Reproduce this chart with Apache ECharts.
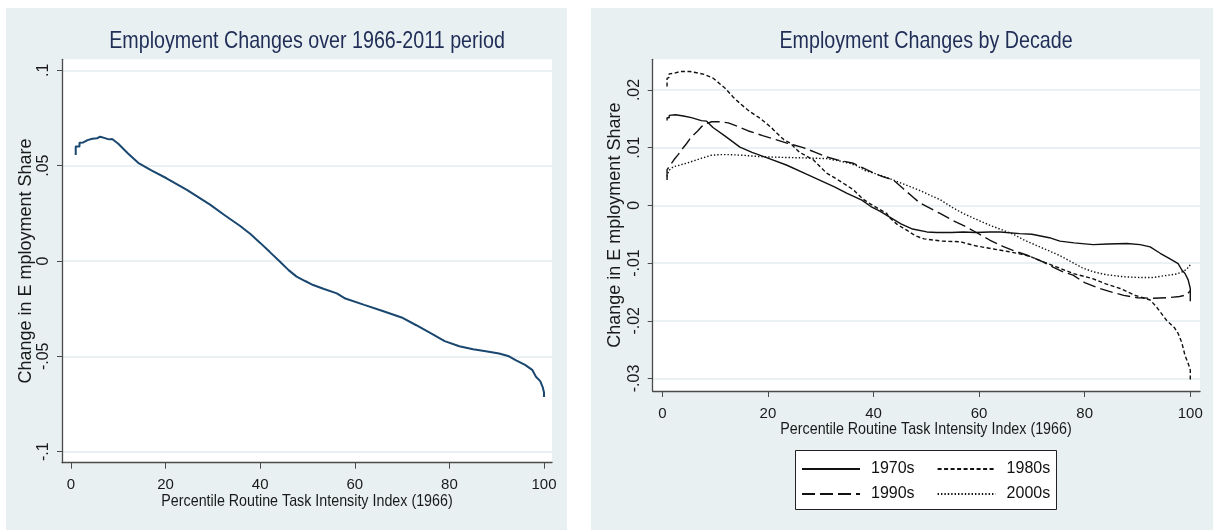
<!DOCTYPE html>
<html>
<head>
<meta charset="utf-8">
<script src="https://cdn.jsdelivr.net/npm/echarts@6/dist/echarts.min.js"></script>
<style>
html,body{margin:0;padding:0;background:#fff;}
#chart{width:1213px;height:532px;}
</style>
</head>
<body>
<div id="chart"></div>
<script>
// ---------- DATA ----------
const leftTitle = 'Employment Changes over 1966-2011 period';
const rightTitle = 'Employment Changes by Decade';
const xAxisTitle = 'Percentile Routine Task Intensity Index (1966)';
const yAxisTitle = 'Change in E mployment Share';

const xTicks = [0, 20, 40, 60, 80, 100];
const leftYTicks = [-0.1, -0.05, 0, 0.05, 0.1];
const leftYLabels = ['-.1', '-.05', '0', '.05', '.1'];
const rightYTicks = [-0.03, -0.02, -0.01, 0, 0.01, 0.02];
const rightYLabels = ['-.03', '-.02', '-.01', '0', '.01', '.02'];

const seriesNames = ['1970s', '1980s', '1990s', '2000s'];

// Overall 1966-2011
const xAll = [1.0,1.0,1.8,1.8,2.6,2.6,3.5,3.5,4.5,5.5,6.2,7.0,8.0,8.7,10.0,12.0,14.2,17.0,20.2,24.5,29.4,32.5,35.7,38.0,40.0,42.0,44.2,46.0,47.7,49.5,51.2,53.5,56.2,58.0,62.0,65.9,69.9,73.0,76.4,79.0,82.1,85.0,87.7,90.5,92.6,94.0,96.0,97.5,98.3,99.2,99.7,100,100];
const yAll = [0.0556,0.0600,0.0600,0.0620,0.0622,0.0632,0.0634,0.0640,0.0641,0.0644,0.0652,0.0646,0.0638,0.0640,0.0615,0.0565,0.0515,0.0475,0.0434,0.0373,0.0296,0.0240,0.0185,0.0140,0.0095,0.0048,-0.0004,-0.0048,-0.0082,-0.0105,-0.0126,-0.0147,-0.0170,-0.0197,-0.0230,-0.0262,-0.0296,-0.0337,-0.0384,-0.0420,-0.0447,-0.0463,-0.0473,-0.0485,-0.0500,-0.0520,-0.0545,-0.0571,-0.0607,-0.0630,-0.0660,-0.0690,-0.0714];

// 1970s
const x1970 = [0.9,0.9,1.3,1.3,2.5,4.0,5.5,7.4,8.4,9.6,11.9,14.7,17.0,20.0,23.5,27.3,30.0,32.6,35.0,37.8,39.5,41.2,43.0,45.2,47.4,50.1,52.0,54.8,57.0,59.3,62.0,64.0,67.7,70.0,73.3,75.3,78.0,81.6,84.4,88.0,90.5,92.4,94.3,96.0,97.7,98.4,99.0,99.6,100,100];
const y1970 = [0.0147,0.0152,0.0152,0.0156,0.0157,0.0155,0.0152,0.0147,0.0146,0.0135,0.0120,0.0101,0.0092,0.0082,0.0070,0.0054,0.0043,0.0032,0.0021,0.0009,-0.0002,-0.0010,-0.0020,-0.0032,-0.0041,-0.0046,-0.0047,-0.0047,-0.0046,-0.0047,-0.0046,-0.0046,-0.0049,-0.0050,-0.0056,-0.0062,-0.0065,-0.0068,-0.0067,-0.0066,-0.0068,-0.0072,-0.0083,-0.0092,-0.0101,-0.0112,-0.0118,-0.0129,-0.0144,-0.0166];

// 1980s
const x1980 = [0.9,0.9,1.3,1.3,2.2,3.35,5.2,6.5,8.0,9.7,11.9,13.4,14.8,16.5,18.5,20.5,23.0,24.2,26.0,28.6,31.1,33.5,36.2,38.0,39.3,42.5,43.0,44.5,46.3,48.0,49.6,51.3,53.0,56.4,59.3,63.0,65.5,67.7,69.5,71.9,74.5,77.8,81.5,84.0,86.7,89.6,92.4,93.5,95.5,97.0,97.7,98.4,99.0,99.6,100,100];
const y1980 = [0.0206,0.0220,0.0222,0.0228,0.0229,0.0232,0.0232,0.0230,0.0227,0.0220,0.0203,0.0188,0.0176,0.0163,0.0151,0.0136,0.0114,0.0108,0.0092,0.0079,0.0056,0.0043,0.0027,0.0011,0.0003,-0.0014,-0.0021,-0.0033,-0.0043,-0.0053,-0.0058,-0.0060,-0.0062,-0.0063,-0.0070,-0.0076,-0.0080,-0.0084,-0.0088,-0.0097,-0.0106,-0.0118,-0.0127,-0.0136,-0.0144,-0.0156,-0.0164,-0.0175,-0.0199,-0.0212,-0.0222,-0.0238,-0.0260,-0.0274,-0.0285,-0.0303];

// 1990s
const x1990 = [0.9,0.9,1.4,2.2,3.0,3.7,4.5,5.2,6.0,6.7,7.5,8.1,9.35,11.0,12.5,14.5,16.3,19.0,21.5,23.6,26.7,29.0,31.1,33.5,36.2,38.0,40.0,42.0,43.75,45.5,47.4,48.8,50.5,52.6,55.0,57.5,59.5,62.0,64.5,67.0,69.0,71.9,74.0,75.6,77.8,80.0,82.5,85.4,87.4,90.0,93.0,95.6,98.0,99.3,100];
const y1990 = [0.0044,0.0062,0.0068,0.0079,0.0088,0.0097,0.0106,0.0115,0.0123,0.0129,0.0137,0.0141,0.0145,0.0145,0.0143,0.0136,0.0129,0.0121,0.0114,0.0108,0.0100,0.0092,0.0084,0.0078,0.0073,0.0065,0.0056,0.0049,0.0044,0.0030,0.0015,0.0004,-0.0004,-0.0014,-0.0026,-0.0037,-0.0047,-0.0060,-0.0071,-0.0080,-0.0086,-0.0097,-0.0107,-0.0114,-0.0121,-0.0134,-0.0143,-0.0151,-0.0156,-0.0160,-0.0161,-0.0160,-0.0158,-0.0155,-0.0148];

// 2000s
const x2000 = [0.9,1.2,2.1,3.0,4.5,5.9,7.5,9.35,11.0,12.6,15.0,17.8,19.8,23.7,28.0,31.1,33.5,35.5,37.0,38.5,40.0,42.0,43.75,46.0,48.5,51.1,52.6,55.0,57.0,58.9,62.2,64.5,66.5,68.5,71.0,73.3,75.3,77.5,79.5,81.6,84.0,86.7,88.0,90.5,93.0,95.0,97.4,98.5,99.3,100];
const y2000 = [0.0050,0.0060,0.0067,0.0069,0.0073,0.0077,0.0082,0.0087,0.0088,0.0088,0.0087,0.0085,0.0084,0.0083,0.0082,0.0081,0.0077,0.0073,0.0068,0.0060,0.0056,0.0050,0.0044,0.0036,0.0027,0.0016,0.0010,-0.0004,-0.0014,-0.0022,-0.0035,-0.0043,-0.0050,-0.0060,-0.0070,-0.0079,-0.0087,-0.0098,-0.0108,-0.0115,-0.0120,-0.0123,-0.0124,-0.0125,-0.0125,-0.0122,-0.0119,-0.0115,-0.0111,-0.0103];

// ---------- CHART ----------
const zip = (xs, ys) => xs.map((x, i) => [x, ys[i]]);
const labelFor = (ticks, labels) => (v) => {
  let best = 0;
  ticks.forEach((t, i) => { if (Math.abs(t - v) < Math.abs(ticks[best] - v)) best = i; });
  return labels[best];
};

const SANS = "'Liberation Sans', Arial, sans-serif";
const PANEL = '#e9f0f2';
const GRIDC = '#e4ecef';
const AXISC = '#4a4a4a';
const TXT = '#1a1a1a';

function xAxisCfg(gridIndex, min, max) {
  return {
    type: 'value', gridIndex, min, max,
    axisLine: { show: true, onZero: false, lineStyle: { color: AXISC, width: 1.3 } },
    axisTick: { show: true, inside: false, length: 6, customValues: xTicks, lineStyle: { color: AXISC } },
    axisLabel: { customValues: xTicks, margin: 15, fontFamily: SANS, fontSize: 15, color: TXT },
    splitLine: { show: false }
  };
}
function yAxisCfg(gridIndex, min, max, ticks, labels, nameGap) {
  return {
    type: 'value', gridIndex, min, max,
    name: yAxisTitle, nameLocation: 'middle', nameGap, nameRotate: 90,
    nameTextStyle: { fontFamily: SANS, fontSize: 18, color: TXT },
    axisLine: { show: true, onZero: false, lineStyle: { color: AXISC, width: 1.3 } },
    axisTick: { show: true, inside: false, length: 5, customValues: ticks, lineStyle: { color: AXISC } },
    axisLabel: { customValues: ticks, rotate: 90, margin: 10, fontFamily: SANS, fontSize: 16, color: TXT,
                 formatter: labelFor(ticks, labels) },
    splitLine: { show: true, lineStyle: { color: GRIDC, width: 1.5 } }
  };
}

const blk = '#111';
const lineSeries = (name, xs, ys, type) => ({
  name, type: 'line', xAxisIndex: 1, yAxisIndex: 1, data: zip(xs, ys),
  symbol: 'none', showSymbol: false, animation: false,
  lineStyle: { color: blk, width: 1.4, type },
  itemStyle: { color: blk }
});

// condensed text (Stata-like narrow font), drawn as real text scaled horizontally
const narrowText = (text, x, y, size, color, sx) => ({
  type: 'text', x, y, scaleX: sx, z: 20,
  style: { text, textAlign: 'center', textVerticalAlign: 'middle', font: size + "px " + SANS, fill: color }
});

const legendCommon = {
  left: 801, itemWidth: 58, itemHeight: 14, itemGap: 22, padding: 0, z: 10,
  itemStyle: { opacity: 0, borderWidth: 0 },
  textStyle: { fontFamily: SANS, fontSize: 16, color: '#111', padding: [0, 0, 0, 6] },
  selectedMode: false
};

const option = {
  backgroundColor: '#ffffff',
  animation: false,
  graphic: [
    { type: 'rect', z: -10, shape: { x: 6, y: 8, width: 561, height: 522 }, style: { fill: PANEL } },
    { type: 'rect', z: -10, shape: { x: 591, y: 8, width: 622, height: 522 }, style: { fill: PANEL } },
    narrowText(leftTitle, 307, 41, 24, '#1f2d57', 0.82),
    narrowText(rightTitle, 926, 41, 24, '#1f2d57', 0.82),
    narrowText(xAxisTitle, 307, 501, 17, TXT, 0.84),
    narrowText(xAxisTitle, 926, 429, 17, TXT, 0.84),
    { type: 'rect', z: 5, shape: { x: 795.5, y: 450.5, width: 261, height: 59 }, style: { fill: '#fff', stroke: '#222', lineWidth: 1 } }
  ],
  grid: [
    { left: 62, top: 59.3, width: 490, height: 403.4, show: true, backgroundColor: '#fff', borderWidth: 0 },
    { left: 652.7, top: 59.3, width: 547.3, height: 331.7, show: true, backgroundColor: '#fff', borderWidth: 0 }
  ],
  xAxis: [ xAxisCfg(0, -1.9, 101.69), xAxisCfg(1, -1.82, 101.84) ],
  yAxis: [
    yAxisCfg(0, -0.1058, 0.1058, leftYTicks, leftYLabels, 23),
    yAxisCfg(1, -0.03217, 0.02532, rightYTicks, rightYLabels, 29)
  ],
  legend: [
    Object.assign({ data: ['1970s', '1980s'], top: 461 }, legendCommon),
    Object.assign({ data: ['1990s', '2000s'], top: 486 }, legendCommon)
  ],
  series: [
    { name: 'Overall', type: 'line', xAxisIndex: 0, yAxisIndex: 0, data: zip(xAll, yAll),
      symbol: 'none', showSymbol: false, lineStyle: { color: '#1a476f', width: 2 } },
    lineSeries(seriesNames[0], x1970, y1970, 'solid'),
    lineSeries(seriesNames[1], x1980, y1980, [4, 2.5]),
    lineSeries(seriesNames[2], x1990, y1990, [13, 5]),
    lineSeries(seriesNames[3], x2000, y2000, [1.4, 2])
  ]
};

const chart = echarts.init(document.getElementById('chart'), null, { renderer: 'canvas' });
chart.setOption(option);
</script>
</body>
</html>
